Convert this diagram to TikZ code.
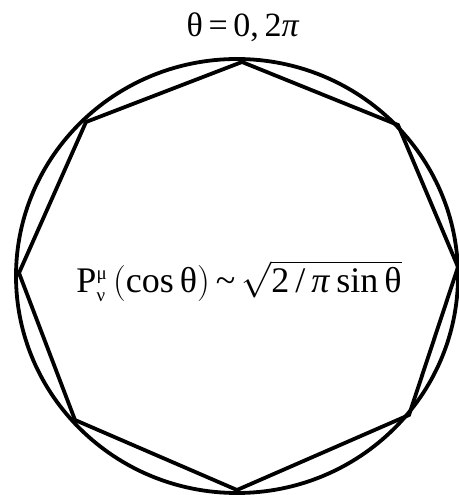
\documentclass[tikz,border=0pt]{standalone}
\usepackage{fix-cm}
\usepackage{fontspec}
\setmainfont{Liberation Serif}
\begin{document}
\begin{tikzpicture}[x=1pt,y=1pt]
    % Define picture size and line width
    \def\lineW{3.8pt}

    \definecolor{borderColour}{HTML}{000000}

    \useasboundingbox (0,0) rectangle (458,495);

    % Draw circle
    \draw[draw=borderColour, line width=\lineW] (237,219) ellipse [x radius=221, y radius=217];

    % Define coordinates for octagon
    \coordinate (T) at (242,433);
    \coordinate (UR) at (398,370);
    \coordinate (R) at (458,228);
    \coordinate (LR) at (409,80);
    \coordinate (B) at (237,5);
    \coordinate (LL) at (75,75);
    \coordinate (L) at (19,222);
    \coordinate (UL) at (86,373);

    % Draw octagon
    \draw[draw=borderColour, line width=\lineW, line join=miter]
        (T) -- (UR) -- (R) -- (LR) -- (B) -- (LL) -- (L) -- (UL) -- cycle;

    % Labels
    \node[anchor=base, inner sep=0pt, font=\fontsize{34}{40}\selectfont] (top) at (243,458)
        {θ\,=\,0,\,2\textit{π}};
    \node[anchor=base, inner sep=0pt, font=\fontsize{36}{42}\selectfont] (formula) at (239,202)
        {P$^{\mbox{\fontsize{19}{20}\selectfont μ}}_{\mbox{\fontsize{19}{20}\selectfont ν}}$\,$\Bigl($cos\,θ$\Bigr)$\,\textasciitilde\,$\sqrt{\mbox{2\,/\,\textit{π}\,sin\,θ}}$};

\end{tikzpicture}
\end{document}
